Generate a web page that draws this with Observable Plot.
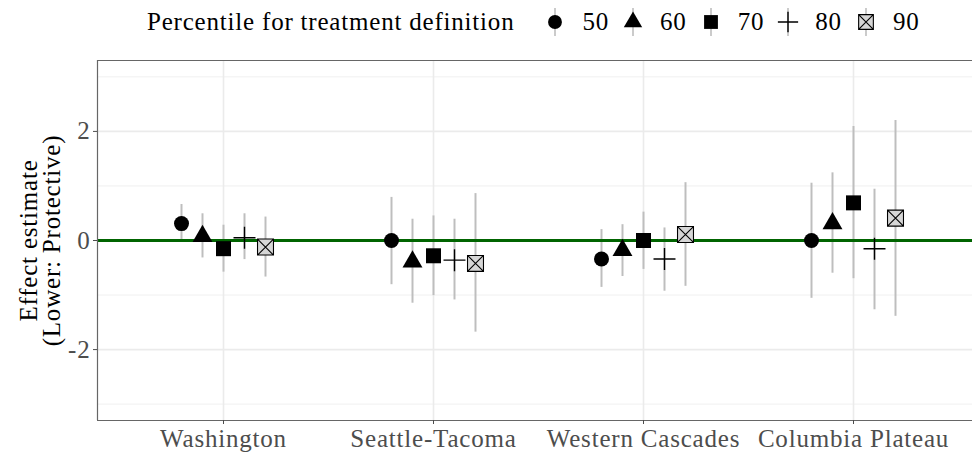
<!DOCTYPE html>
<html><head><meta charset="utf-8">
<script src="https://cdn.jsdelivr.net/npm/d3@7"></script>
<script src="https://cdn.jsdelivr.net/npm/@observablehq/plot@0.6"></script>
<style>
body{margin:0;background:#fff;font-family:"Liberation Serif",serif;}
#legend{height:44px;display:flex;align-items:center;justify-content:flex-start;padding-left:147px;font-size:25px;letter-spacing:0.8px;color:#000;box-sizing:border-box;}
#legend .title{margin-right:28px;}
#legend .key{margin-right:14px;display:block;}
#legend .lab{margin-right:11px;}
#chart svg{display:block;}
#chart svg text{font-family:"Liberation Serif",serif;letter-spacing:0.8px;}
</style></head><body>
<div id="legend"></div>
<div id="chart"></div>
<script>
const regions = ["Washington", "Seattle-Tacoma", "Western Cascades", "Columbia Plateau"];
const percentiles = [50, 60, 70, 80, 90];
const legendTitle = "Percentile for treatment definition";
const yLabel = "Effect estimate\n(Lower: Protective)";
const yTicks = [-2, 0, 2];

// estimates and interval bounds, one value per region
const est50 = [0.31, 0.00, -0.34, 0.00];
const lo50  = [-0.03, -0.81, -0.86, -1.06];
const hi50  = [0.66, 0.79, 0.20, 1.05];
const est60 = [0.08, -0.39, -0.18, 0.31];
const lo60  = [-0.32, -1.15, -0.66, -0.60];
const hi60  = [0.49, 0.39, 0.29, 1.24];
const est70 = [-0.15, -0.28, 0.00, 0.69];
const lo70  = [-0.58, -1.01, -0.53, -0.70];
const hi70  = [0.28, 0.45, 0.52, 2.09];
const est80 = [0.05, -0.36, -0.34, -0.15];
const lo80  = [-0.35, -1.09, -0.93, -1.27];
const hi80  = [0.49, 0.39, 0.23, 0.94];
const est90 = [-0.12, -0.42, 0.11, 0.41];
const lo90  = [-0.67, -1.68, -0.84, -1.39];
const hi90  = [0.43, 0.86, 1.06, 2.20];

const ests = [est50, est60, est70, est80, est90];
const los = [lo50, lo60, lo70, lo80, lo90];
const his = [hi50, hi60, hi70, hi80, hi90];

const dodge = 0.1;
const rows = [];
percentiles.forEach((p, k) => regions.forEach((r, i) => rows.push({
  region: r, p, x: i + 1 + (k - 2) * dodge, est: ests[k][i], lo: los[k][i], hi: his[k][i]
})));

const boxX = {draw(ctx, size){const s=Math.sqrt(size)/2;
  ctx.moveTo(-s,-s);ctx.lineTo(s,-s);ctx.lineTo(s,s);ctx.lineTo(-s,s);ctx.closePath();
  ctx.moveTo(-s,-s);ctx.lineTo(s,s);ctx.moveTo(s,-s);ctx.lineTo(-s,s);}};
const plusSym = {draw(ctx, size){const s=Math.sqrt(size)/2;
  ctx.moveTo(-s,0);ctx.lineTo(s,0);ctx.moveTo(0,-s);ctx.lineTo(0,s);}};

const styles = [
  {symbol: "circle", d3sym: d3.symbolCircle, r: 7.5, fill: "black", stroke: "none", sw: 0},
  {symbol: "triangle", d3sym: d3.symbolTriangle, r: 7.4, fill: "black", stroke: "none", sw: 0},
  {symbol: "square", d3sym: d3.symbolSquare, r: 8.46, fill: "black", stroke: "none", sw: 0},
  {symbol: plusSym, d3sym: plusSym, r: 12.4, fill: "none", stroke: "black", sw: 1.4},
  {symbol: boxX, d3sym: boxX, r: 9.0, fill: "#d6d6d6", stroke: "black", sw: 1.1}
];

// legend
const leg = d3.select("#legend");
leg.append("span").attr("class","title").text(legendTitle);
percentiles.forEach((p, k) => {
  const st = styles[k];
  const svg = leg.append("svg").attr("class","key").attr("width",26).attr("height",36);
  svg.append("line").attr("x1",13).attr("x2",13).attr("y1",4).attr("y2",32)
    .attr("stroke","#bebebe").attr("stroke-width",1.6);
  svg.append("path").attr("transform","translate(13,18)")
    .attr("d", d3.symbol(st.d3sym, Math.PI*st.r*st.r*0.85)())
    .attr("fill", st.fill).attr("stroke", st.stroke).attr("stroke-width", st.sw);
  leg.append("span").attr("class","lab").text(p);
});

const dotMarks = percentiles.map((p, k) => Plot.dot(rows.filter(d => d.p === p), {
  x: "x", y: "est", symbol: styles[k].symbol, r: styles[k].r,
  fill: styles[k].fill, stroke: styles[k].stroke, strokeWidth: styles[k].sw
}));

// panel extends slightly past the right edge of the picture (as in the reference)
const xDomain = [0.4, 0.4 + (972 - 97) / 210];
const yDomain = [-3.3, 3.3];

const chart = Plot.plot({
  width: 972, height: 410,
  marginLeft: 97, marginRight: 0, marginTop: 16, marginBottom: 34,
  style: {fontFamily: "'Liberation Serif', serif", fontSize: "25px", background: "#fff", overflow: "hidden"},
  x: {type: "linear", domain: xDomain},
  y: {domain: yDomain},
  marks: [
    Plot.gridY([-3, -1, 1, 3], {stroke: "#ececec", strokeOpacity: 1, strokeWidth: 0.8}),
    Plot.gridY(yTicks, {stroke: "#ebebeb", strokeOpacity: 1, strokeWidth: 1.6}),
    Plot.gridX([1, 2, 3, 4], {stroke: "#ebebeb", strokeOpacity: 1, strokeWidth: 1.6}),
    Plot.ruleX(rows, {x: "x", y1: "lo", y2: "hi", stroke: "#bebebe", strokeWidth: 2}),
    Plot.ruleY([0], {stroke: "#006400", strokeWidth: 3}),
    ...dotMarks,
    Plot.ruleY(yDomain, {stroke: "#666", strokeWidth: 1.2}),
    Plot.ruleX([xDomain[0]], {stroke: "#666", strokeWidth: 1.2}),
    Plot.axisY(yTicks, {tickSize: 4, tickPadding: 3, label: null, color: "#4d4d4d", fontSize: 25,
      tickFormat: d => String(d)}),
    Plot.axisX([1, 2, 3, 4], {tickSize: 4, tickPadding: 5, label: null, color: "#4d4d4d", fontSize: 25,
      tickFormat: v => regions[v - 1]}),
    Plot.text([yLabel], {frameAnchor: "left", dx: -56, rotate: -90, lineAnchor: "middle", textAnchor: "middle",
      fill: "black", fontSize: 25, text: d => d, lineHeight: 0.9})
  ]
});
document.getElementById("chart").appendChild(chart);
</script>
</body></html>
